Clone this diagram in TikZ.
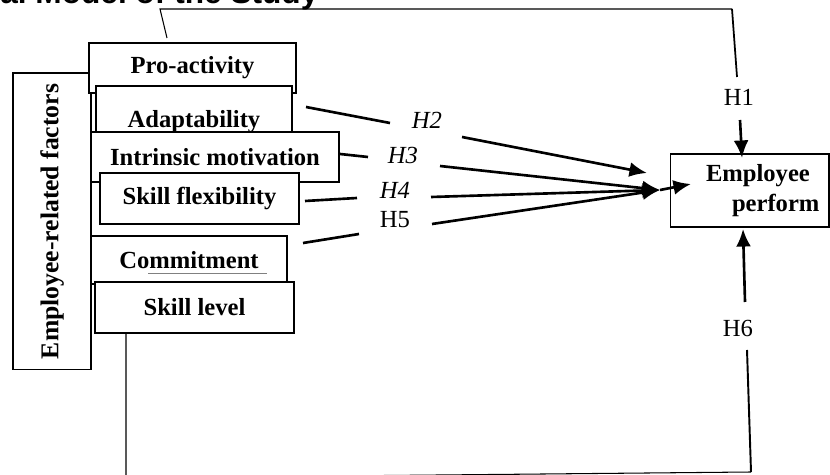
\documentclass[tikz,border=0pt]{standalone}
\usepackage{fontspec}
\setmainfont{Liberation Serif}
\newfontfamily\headfont{Liberation Sans}
\usetikzlibrary{arrows.meta,positioning}

\tikzset{
  factor/.style={draw, fill=white, line width=0.6pt, inner sep=0pt,
                 font=\fontsize{14}{17}\selectfont\bfseries},
  hyp/.style={font=\fontsize{14}{17}\selectfont, inner sep=1pt},
  link/.style={line width=1.5pt},
  thinlink/.style={line width=0.6pt}
}

\begin{document}
\begin{tikzpicture}[x=0.02cm, y=-0.02cm, >={Latex[length=10pt,width=8.5pt]}]
  \clip (0,0) rectangle (830,475);

  % title, only its lower part is on the page
  \node[anchor=base west, inner sep=0pt,
        font=\headfont\bfseries\fontsize{18}{20}\selectfont] (title) at (0,4)
        {al Model of the Study};

  % the factors, stacked
  \node[factor, rotate=90, minimum width=5.94cm, minimum height=1.56cm,
        font=\fontsize{14.6}{17}\selectfont\bfseries]
        (factors) at (52,221.5) {Employee-related factors};
  \node[factor, minimum width=4.14cm, minimum height=1.0cm]  (proact)  at (192.5,68)  {Pro-activity};
  \node[factor, minimum width=3.92cm, minimum height=1.44cm] (adapt)   at (194,122)   {Adaptability};
  \node[factor, minimum width=4.96cm, minimum height=1.0cm]  (intrin)  at (215,157)   {Intrinsic motivation};
  \node[factor, minimum width=3.98cm, minimum height=1.02cm] (skflex)  at (199.5,198.5) {Skill flexibility};
  \node[factor, minimum width=3.92cm, minimum height=0.96cm] (commit)  at (189,260)   {Commitment};
  \draw[gray, line width=0.5pt] (148,273) -- (267,273);
  \node[factor, minimum width=3.98cm, minimum height=1.02cm] (sklevel) at (194.5,307.5) {Skill level};

  \node[factor, text width=3.18cm, inner xsep=0pt, minimum height=1.46cm, align=left]
        (perf) at (749.5,190.5) {\hspace*{0.72cm}Employee\\\hspace*{1.24cm}perform};

  % hypotheses
  \node[hyp] (h1) at (739,97)  {H1};
  \node[hyp] (h2) at (427,120) {\textit{H2}};
  \node[hyp] (h3) at (403,155) {\textit{H3}};
  \node[hyp] (h4) at (395,190) {\textit{H4}};
  \node[hyp] (h5) at (395,220) {H5};
  \node[hyp] (h6) at (738,328) {H6};

  % free ends of the connectors
  \coordinate (topstart) at (167,38);
  \coordinate (topleft)  at (160,9);
  \coordinate (topright) at (732,9);
  \coordinate (h1in)  at (737,77);
  \coordinate (h1out) at (740,120);
  \coordinate (h1tip) at (742,158);
  \coordinate (h2a) at (306,107);  \coordinate (h2b) at (390,123);
  \coordinate (h2c) at (462,137);  \coordinate (h2tip) at (647,173);
  \coordinate (h3a) at (340,154);  \coordinate (h3b) at (368,157);
  \coordinate (h3c) at (440,166);
  \coordinate (h4a) at (305,201);  \coordinate (h4b) at (357,198);
  \coordinate (h4c) at (431,197);
  \coordinate (h5a) at (303,243);  \coordinate (h5b) at (359,234);
  \coordinate (h5c) at (432,224);
  \coordinate (hub) at (660,190);
  \coordinate (perfin) at (691,184);
  \coordinate (lowstart) at (126,333);
  \coordinate (lowleft)  at (126,478);
  \coordinate (lowright) at (751,472);
  \coordinate (h6in)  at (747,350);
  \coordinate (h6out) at (745,302);
  \coordinate (h6tip) at (743,229);

  % H1
  \draw[thinlink] (topstart) -- (topleft) -- (topright);
  \draw[line width=1pt] (topright) -- (h1in);
  \draw[link,->] (h1out) -- (h1tip);

  % H2 to H5
  \draw[link] (h2a) -- (h2b);
  \draw[link,->] (h2c) -- (h2tip);
  \draw[link] (h3a) -- (h3b);
  \draw[link,->] (h3c) -- (hub);
  \draw[link] (h4a) -- (h4b);
  \draw[link,->] (h4c) -- (hub);
  \draw[link] (h5a) -- (h5b);
  \draw[link,->] (h5c) -- (hub);
  \draw[link,->] (hub) -- (perfin);

  % H6
  \draw[thinlink] (lowstart) -- (lowleft) -- (lowright);
  \draw[line width=1.1pt] (lowright) -- (h6in);
  \draw[link,->] (h6out) -- (h6tip);
\end{tikzpicture}
\end{document}
